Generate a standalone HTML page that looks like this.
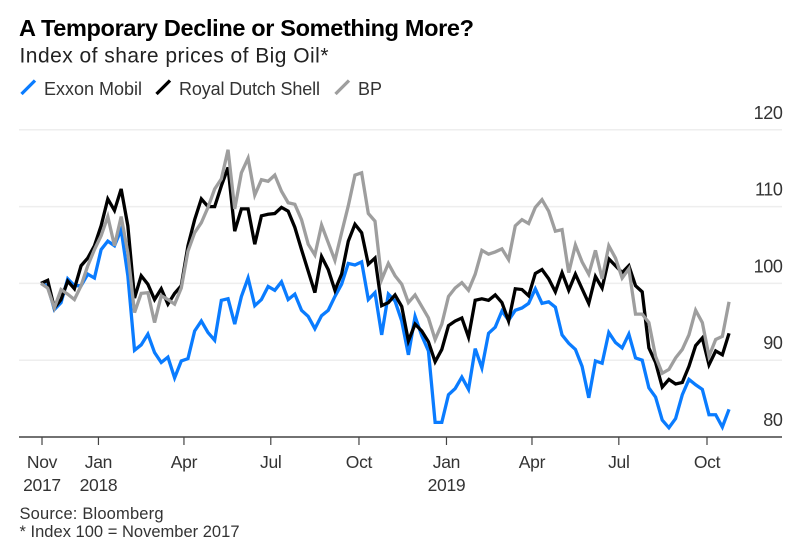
<!DOCTYPE html>
<html lang="en">
<head>
<meta charset="utf-8">
<title>A Temporary Decline or Something More?</title>
<style>
  html, body { margin: 0; padding: 0; background: #fff; }
  #chart { display: block; font-family: "Liberation Sans", Arial, sans-serif; }
</style>
</head>
<body>
<svg id="chart" xmlns="http://www.w3.org/2000/svg" width="812" height="559" viewBox="0 0 812 559">
  <rect x="0" y="0" width="812" height="559" fill="#fff"/>
  <text x="19" y="36" font-size="23.5" font-weight="700" fill="#000" textLength="455" lengthAdjust="spacing">A Temporary Decline or Something More?</text>
  <text x="19.5" y="62.5" font-size="21" fill="#222" textLength="309" lengthAdjust="spacing">Index of share prices of Big Oil*</text>

  <g>
    <line x1="21.5" y1="94" x2="35" y2="80.5" stroke="#0a7cff" stroke-width="3.3"/>
    <text x="44" y="95" font-size="18" fill="#333" textLength="98" lengthAdjust="spacing">Exxon Mobil</text>
    <line x1="156.5" y1="94" x2="170" y2="80.5" stroke="#000" stroke-width="3.3"/>
    <text x="179" y="95" font-size="18" fill="#333" textLength="141" lengthAdjust="spacing">Royal Dutch Shell</text>
    <line x1="335.5" y1="94" x2="349" y2="80.5" stroke="#9e9e9e" stroke-width="3.3"/>
    <text x="358" y="95" font-size="18" fill="#333">BP</text>
  </g>

  <g id="grid"></g>
  <g id="y-labels"></g>
  <g id="series"></g>
  <g id="x-axis"></g>

  <text x="19.5" y="519" font-size="16.5" fill="#333" textLength="144" lengthAdjust="spacing">Source: Bloomberg</text>
  <text x="19.5" y="537" font-size="16.5" fill="#333" textLength="220" lengthAdjust="spacing">* Index 100 = November 2017</text>
</svg>
<script>
const exxonValues = [100,99.7,96.6,97.5,100.6,99.7,99.7,101.2,100.7,104.4,105.5,104.9,107,101,91.3,92,93.4,91,89.7,90.4,87.7,89.9,90.2,93.8,95.1,93.6,92.6,97.8,98,94.7,98.3,100.7,97.1,97.9,99.6,99.1,100.2,97.9,98.6,96.5,95.7,94.1,95.8,96.5,98.3,99.9,102.6,102.4,102.8,97.9,98.8,93.3,98.6,97.7,95.1,90.7,95.7,93.2,91.2,81.9,81.9,85.5,86.3,87.8,86.2,91.5,89,93.5,94.3,96.4,95.2,96.5,96.8,97.4,99.3,97.4,97.6,96.9,93.3,92.2,91.4,89.2,85.1,89.9,89.6,93.6,92.3,91.6,93.4,90.3,90,86.4,85.2,82.2,81.2,82.4,85.5,87.5,86.8,86.2,82.9,82.9,81.3,83.6];
const shellValues = [100,100.4,96.8,97.9,100.3,99.3,102.3,103.3,104.9,107.5,111,109.5,112.3,107.5,98.1,101,99.9,97.9,99.3,97.3,98.7,99.7,104.9,108.3,111,110,110,112.7,115.1,106.8,109.7,109.7,105.1,108.8,109,109.1,109.9,109.4,107.3,104.4,101.6,98.8,103.5,101.8,99.1,101.2,105.5,107.7,106.6,102.5,103.3,97.1,97.5,98.5,97,92.5,94.7,93.8,92.4,89.8,91.4,94.5,95.1,95.5,93,97.8,98,97.8,98.5,97.5,95.1,99.3,99.2,98.4,101.3,101.8,100.6,98.9,101.4,99.1,101.2,99.3,97.4,100.9,99.4,103.2,102.3,101.4,102.3,99.7,98.9,91.6,89.7,86.5,87.5,86.9,87.1,89.2,91.9,92.9,89.4,91.2,90.7,93.5];
const bpValues = [100,99.4,96.8,99.2,98.6,97.9,99.7,102.3,104.4,106.2,108.7,104.9,108.7,104,96.2,98.7,98.8,94.9,98.4,97.9,97.3,99.4,104.2,106.6,107.9,109.9,112.3,113.6,117.4,109.7,114.4,116.3,111.5,113.5,113.3,114.1,112,110.5,110.3,108.3,105.1,103.7,107.6,105.3,103,106.6,110.1,114.1,114.4,109.1,108.1,100.5,102.6,101,99.9,97.5,98.5,97,95.5,92.7,94.7,98.3,99.4,100.1,99.1,101.2,104.3,103.8,104.1,104.5,103.1,107.5,108.3,107.8,109.9,110.9,109.4,106.8,107,101.4,105,102.8,101.2,104.3,100.6,104.9,103.3,100.7,101.9,96,96,94.9,90.5,88.3,88.8,90.3,91.4,93.3,96.5,94.9,90.5,92.7,93.1,97.6];
const yTicks = [120, 110, 100, 90, 80];
const xTickWeeks = [0.15, 8.6, 21.4, 34.4, 47.6, 60.7, 73.5, 86.5, 99.7];
const xTickMonths = ["Nov", "Jan", "Apr", "Jul", "Oct", "Jan", "Apr", "Jul", "Oct"];
const xTickYears = ["2017", "2018", "", "", "", "2019", "", "", ""];

const NS = "http://www.w3.org/2000/svg";
function xScale(week) { return 41 + week * 6.68; }
function yScale(value) { return 437 - (value - 80) * 7.68; }

const grid = document.getElementById("grid");
const yLabels = document.getElementById("y-labels");
yTicks.forEach(function (tick) {
  if (tick !== 80) {
    const gridline = document.createElementNS(NS, "line");
    
    
    gridline.setAttribute("x1", 19);
    gridline.setAttribute("x2", 782);
    gridline.setAttribute("y1", yScale(tick));
    gridline.setAttribute("y2", yScale(tick));
    gridline.setAttribute("stroke", "#eeeeee");
    gridline.setAttribute("stroke-width", "1.5");
    grid.appendChild(gridline);
  }
  const label = document.createElementNS(NS, "text");
  
  
  label.setAttribute("x", 782.5);
  label.setAttribute("y", yScale(tick) - 11);
  label.setAttribute("text-anchor", "end");
  label.setAttribute("font-size", "18");
  label.setAttribute("letter-spacing", "-0.4");
  label.setAttribute("fill", "#333");
  label.textContent = String(tick);
  yLabels.appendChild(label);
});

function drawSeries(values, colour, name) {
  const path = document.createElementNS(NS, "path");
  
  
  let d = "";
  values.forEach(function (value, week) {
    d += (week === 0 ? "M" : "L") + xScale(week).toFixed(2) + " " + yScale(value).toFixed(2);
  });
  path.setAttribute("d", d);
  path.setAttribute("fill", "none");
  path.setAttribute("stroke", colour);
  path.setAttribute("stroke-width", "3.3");
  path.setAttribute("stroke-linejoin", "miter");
  document.getElementById("series").appendChild(path);
}
drawSeries(exxonValues, "#0a7cff", "line-exxon-mobil");
drawSeries(shellValues, "#000000", "line-royal-dutch-shell");
drawSeries(bpValues, "#9e9e9e", "line-bp");

const xAxis = document.getElementById("x-axis");
const axisLine = document.createElementNS(NS, "line");


axisLine.setAttribute("x1", 19);
axisLine.setAttribute("x2", 782);
axisLine.setAttribute("y1", 437);
axisLine.setAttribute("y2", 437);
axisLine.setAttribute("stroke", "#444");
axisLine.setAttribute("stroke-width", "1.5");
xAxis.appendChild(axisLine);

xTickWeeks.forEach(function (week, i) {
  const x = xScale(week);
  const tick = document.createElementNS(NS, "line");
  
  
  tick.setAttribute("x1", x);
  tick.setAttribute("x2", x);
  tick.setAttribute("y1", 437);
  tick.setAttribute("y2", 445);
  tick.setAttribute("stroke", "#444");
  tick.setAttribute("stroke-width", "1.2");
  xAxis.appendChild(tick);

  const month = document.createElementNS(NS, "text");
  
  
  month.setAttribute("x", x);
  month.setAttribute("y", 468);
  month.setAttribute("text-anchor", "middle");
  month.setAttribute("font-size", "17.5");
  month.setAttribute("letter-spacing", "-0.3");
  month.setAttribute("fill", "#333");
  month.textContent = xTickMonths[i];
  xAxis.appendChild(month);

  if (xTickYears[i]) {
    const year = document.createElementNS(NS, "text");
    
    
    year.setAttribute("x", x);
    year.setAttribute("y", 491);
    year.setAttribute("text-anchor", "middle");
    year.setAttribute("font-size", "17.5");
    year.setAttribute("letter-spacing", "-0.3");
    year.setAttribute("fill", "#333");
    year.textContent = xTickYears[i];
    xAxis.appendChild(year);
  }
});
</script>
</body>
</html>
